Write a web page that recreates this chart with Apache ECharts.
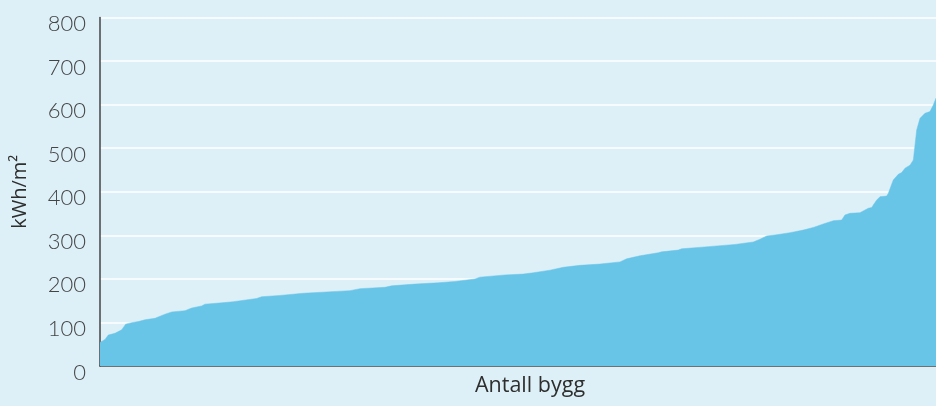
<!DOCTYPE html>
<html>
<head>
<meta charset="utf-8">
<script src="https://cdn.jsdelivr.net/npm/echarts@6/dist/echarts.min.js"></script>
<style>
html,body{margin:0;padding:0;background:#ddf0f7;}
#chart{width:936px;height:406px;}
</style>
</head>
<body>
<div id="chart"></div>
<script>
// building rank, in percent of all buildings (sorted by energy use)
var rankPct = [0, 0.6, 0.99, 1.79, 2.6, 3.07, 3.79, 4.58, 5.38, 6.58, 7.78, 8.58, 10.17, 10.97, 12.16, 12.56, 14.56, 15.94, 18.74, 19.34, 21.53, 24.32, 27.12, 29.9, 31.1, 34.09, 34.89, 37.68, 40.47, 42.46, 44.86, 45.45, 48.44, 50.63, 51.83, 53.83, 55.42, 57.42, 59.81, 62.2, 63.0, 64.59, 66.78, 67.19, 69.17, 69.58, 72.76, 75.96, 78.15, 78.95, 79.75, 80.74, 82.54, 84.13, 85.32, 86.52, 87.72, 88.72, 89.11, 89.71, 90.91, 91.51, 91.9, 92.31, 92.5, 92.91, 93.3, 94.1, 94.29, 94.89, 95.49, 95.9, 96.29, 96.89, 97.29, 97.49, 97.69, 98.09, 98.68, 99.28, 99.68, 100];
// specific energy use, kWh/m2
var kwh = [54, 61, 71, 75, 83, 96, 99.5, 102, 106, 109.5, 119, 124, 127, 133, 138, 142, 145, 147.6, 155, 159, 162, 167, 170, 173, 177.5, 180.6, 184, 188, 191, 194, 199.7, 204, 209, 211, 214, 220, 226.6, 231, 234, 239, 246, 253, 260, 262, 266, 269, 274, 279, 284.7, 291, 298.4, 300.7, 306, 312, 318, 326, 333.6, 335, 346.7, 350.5, 352, 358, 362, 364, 369.6, 381, 388.7, 390, 396, 427, 440, 444, 454, 461, 473, 475, 542, 568.6, 580, 584, 599, 615];
var yTicks = [0, 100, 200, 300, 400, 500, 600, 700, 800];
var yName = 'kWh/m²';
var xName = 'Antall bygg';

var seriesData = rankPct.map(function (r, i) { return [r, kwh[i]]; });

var chart = echarts.init(document.getElementById('chart'), null, {renderer: 'canvas'});
chart.setOption({
  backgroundColor: '#ddf0f7',
  animation: false,
  grid: {left: 100, right: 0, top: 17.5, bottom: 40, containLabel: false},
  xAxis: {
    type: 'value', min: 0, max: 100,
    name: xName, nameLocation: 'middle', nameGap: 9,
    nameTextStyle: {fontFamily: 'Open Sans', fontSize: 21.5, color: '#2e2e2e', padding: [0, 0, 0, 24]},
    axisLine: {show: true, lineStyle: {color: '#444', width: 1.5}},
    axisTick: {show: false}, axisLabel: {show: false}, splitLine: {show: false}
  },
  yAxis: {
    type: 'value', min: yTicks[0], max: yTicks[yTicks.length - 1], interval: 100,
    name: yName, nameLocation: 'middle', nameGap: 70, nameRotate: 90,
    nameTextStyle: {fontFamily: 'Open Sans', fontSize: 20, color: '#2e2e2e'},
    axisLine: {show: true, lineStyle: {color: '#444', width: 1.5}},
    axisTick: {show: false},
    axisLabel: {fontFamily: 'Lato', fontWeight: 300, fontSize: 22, color: '#444', margin: 14, verticalAlign: 'top', lineHeight: 13},
    splitLine: {show: true, lineStyle: {color: '#ffffff', width: 1.5}}
  },
  series: [{
    type: 'line', data: seriesData, showSymbol: false, symbol: 'none',
    lineStyle: {width: 0.5, color: '#69c5e8'},
    areaStyle: {color: '#69c5e8', opacity: 1},
    z: 3
  }]
});
</script>
</body>
</html>
